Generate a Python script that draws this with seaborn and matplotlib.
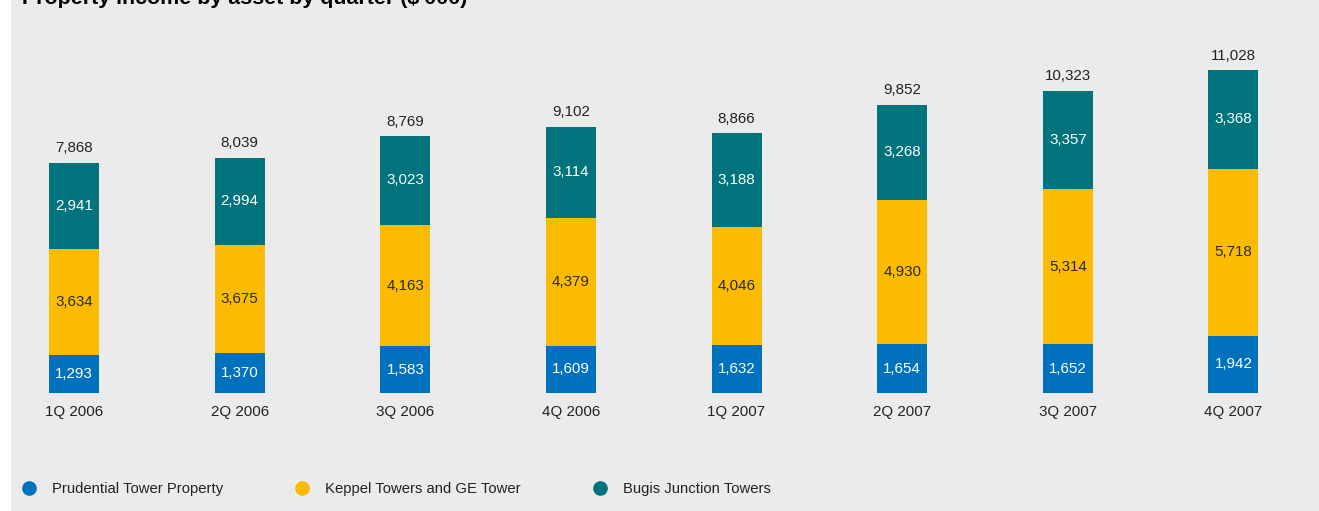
import numpy as np
import pandas as pd
import matplotlib
matplotlib.use("Agg")
import matplotlib.pyplot as plt
from matplotlib.lines import Line2D
import seaborn as sns

# Quarterly property income by asset ($'000)
quarters = ["1Q 2006", "2Q 2006", "3Q 2006", "4Q 2006",
            "1Q 2007", "2Q 2007", "3Q 2007", "4Q 2007"]
prudential = [1293, 1370, 1583, 1609, 1632, 1654, 1652, 1942]
keppel = [3634, 3675, 4163, 4379, 4046, 4930, 5314, 5718]
bugis = [2941, 2994, 3023, 3114, 3188, 3268, 3357, 3368]

series_names = ["Prudential Tower Property", "Keppel Towers and GE Tower", "Bugis Junction Towers"]
colors = ["#0071bc", "#fabb00", "#00737c"]
label_colors = ["white", "#2a2a2a", "white"]

BG = "#ebebeb"
TEXT = "#222222"

sns.set_theme(style="white")
plt.rcParams["font.family"] = ["Liberation Sans", "DejaVu Sans"]

W, H = 1319, 511
fig = plt.figure(figsize=(W / 100, H / 100), dpi=100, facecolor="white")
ax_left_px = 11
ax = fig.add_axes([ax_left_px / W, 0, (W - ax_left_px) / W, 1])
ax.set_facecolor(BG)

df = pd.DataFrame({"quarter": quarters, "p": prudential, "k": keppel, "b": bugis})
df["pk"] = df["p"] + df["k"]
df["total"] = df["pk"] + df["b"]

bar_w = 0.302
# Stack by overdrawing cumulative heights, tallest first
sns.barplot(data=df, x="quarter", y="total", color=colors[2], width=bar_w,
            saturation=1, linewidth=0, ax=ax)
sns.barplot(data=df, x="quarter", y="pk", color=colors[1], width=bar_w,
            saturation=1, linewidth=0, ax=ax)
sns.barplot(data=df, x="quarter", y="p", color=colors[0], width=bar_w,
            saturation=1, linewidth=0, ax=ax)

# Axis ranges place bars and baseline within the panel
spacing_px = 165.64
first_center_px = 74.0
xl = -(first_center_px - ax_left_px) / spacing_px
ax.set_xlim(xl, xl + (W - ax_left_px) / spacing_px)
units_per_px = 34.2
base_px = 392.7
ax.set_ylim(-(H - base_px) * units_per_px, base_px * units_per_px)

for s in ax.spines.values():
    s.set_visible(False)
ax.set_xticks([])
ax.set_yticks([])
ax.set_xlabel("")
ax.set_ylabel("")

fs_val = 10.9
layers = [df["p"], df["k"], df["b"]]
bottoms = [np.zeros(len(df)), df["p"].values, df["pk"].values]
for vals, bots, lc in zip(layers, bottoms, label_colors):
    for i, (v, b) in enumerate(zip(vals, bots)):
        ax.text(i, b + v / 2, f"{v:,}", ha="center", va="center",
                color=lc, fontsize=fs_val)

for i, t in enumerate(df["total"]):
    ax.annotate(f"{t:,}", (i, t), xytext=(0, 14.5 * 0.72), textcoords="offset points",
                ha="center", va="center", color=TEXT, fontsize=fs_val)

for i, q in enumerate(quarters):
    ax.annotate(q, (i, 0), xytext=(0, -19 * 0.72), textcoords="offset points",
                ha="center", va="center", color=TEXT, fontsize=10.9)

fig.text(22 / W, 1 - 4.5 / H, "Property income by asset by quarter ($'000)",
         ha="left", va="baseline", fontsize=15.4, fontweight="bold", color="black")

handles = [Line2D([0], [0], marker="o", linestyle="none", markersize=9.5,
                  markerfacecolor=c, markeredgecolor=c) for c in colors]
leg = ax.legend(handles, series_names, ncol=3, frameon=False, fontsize=10.7,
                loc="center left", bbox_to_anchor=(21.7 / W, 1 - 489 / H),
                bbox_transform=fig.transFigure, borderpad=0, borderaxespad=0,
                handlelength=1.0, handletextpad=1.05, columnspacing=4.8,
                labelcolor=TEXT)

fig.savefig("out.png", dpi=100, facecolor="white")
